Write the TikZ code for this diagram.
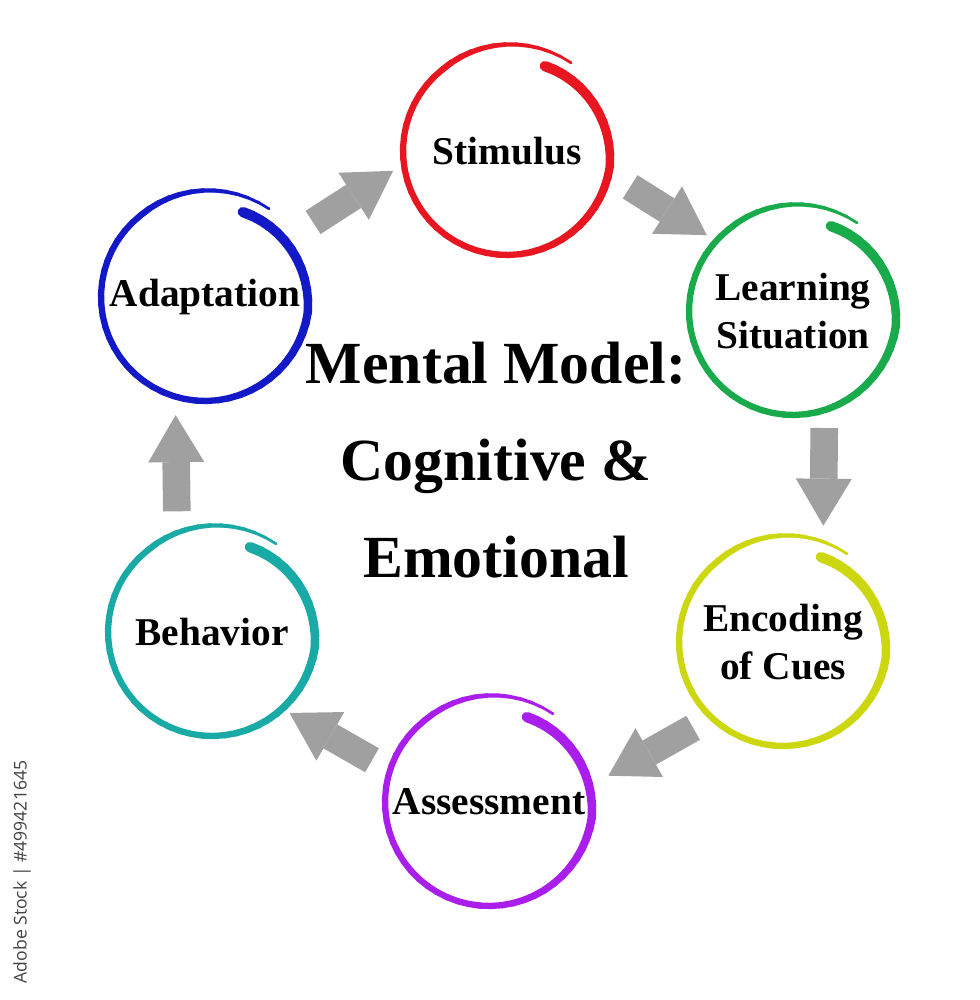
\documentclass[tikz,border=0pt]{standalone}
\usepackage{fontspec}
\setmainfont{Liberation Serif}
\newfontfamily\stockfont{Open Sans}
\usetikzlibrary{arrows.meta, calc}
\definecolor{ringred}{RGB}{232,22,32}
\definecolor{ringgreen}{RGB}{25,170,75}
\definecolor{ringlime}{RGB}{205,215,15}
\definecolor{ringpurple}{RGB}{170,30,235}
\definecolor{ringteal}{RGB}{25,170,165}
\definecolor{ringblue}{RGB}{20,25,200}
\definecolor{arrgray}{RGB}{160,160,160}
\tikzset{
  stage/.style={circle, minimum size=5.35cm, inner sep=0pt, align=center,
    font=\bfseries\fontsize{28}{34}\selectfont},
  title/.style={align=center, inner sep=0pt, font=\bfseries\fontsize{42.5}{69}\selectfont},
  blkarr/.style={-{Triangle[length=1.175cm, width=1.4cm, line width=0pt]},
    line width=0.69cm, draw=arrgray},
  stock/.style={font=\stockfont\fontsize{12.5}{14}\selectfont, text=black!74, inner sep=0pt}
}
% brush-like ring round a stage node: a spiral that starts thick inside
% and ends thin just outside
\newcommand{\handring}[2]{%
  \foreach \k in {0,...,59}{%
    \pgfmathsetmacro{\tA}{\k/60}%
    \pgfmathsetmacro{\tB}{(\k+1)/60}%
    \pgfmathsetmacro{\angA}{66-372*\tA}%
    \pgfmathsetmacro{\angB}{66-372*\tB}%
    \pgfmathsetmacro{\radA}{104-11*max(0,1-\tA/0.2)+5*max(0,(\tA-0.8)/0.2)}%
    \pgfmathsetmacro{\radB}{104-11*max(0,1-\tB/0.2)+5*max(0,(\tB-0.8)/0.2)}%
    \pgfmathsetmacro{\wid}{0.7113*(6.3+4*max(0,1-\tA/0.4)-3.9*max(0,(\tA-0.8)/0.2))}%
    \draw[#2, line width=\wid pt, line cap=round]
      ($(#1.center)+(\angA:\radA)$) -- ($(#1.center)+(\angB:\radB)$);
  }%
}

\begin{document}
\begin{tikzpicture}[x=0.025cm, y=0.025cm]
\fill[white] (0,0) rectangle (980,1000);
\useasboundingbox (0,0) rectangle (980,1000);

\node[stage] (stim) at (507,849) {Stimulus};
\node[stage] (learn) at (793,689) {Learning\\Situation};
\node[stage] (enc) at (783,358) {Encoding\\of Cues};
\node[stage] (assess) at (489,198) {Assessment};
\node[stage] (behav) at (212,368) {Behavior};
\node[stage] (adapt) at (205,703) {Adaptation};

\node[title] (mm) at (496,540) {Mental Model:\\Cognitive \&\\Emotional};

\handring{stim}{ringred}
\handring{learn}{ringgreen}
\handring{enc}{ringlime}
\handring{assess}{ringpurple}
\handring{behav}{ringteal}
\handring{adapt}{ringblue}

\draw[blkarr, shorten <=0.6cm, shorten >=0.225cm] (adapt.35) -- (stim.188);
\draw[blkarr, shorten <=0.55cm, shorten >=0.19cm] (stim.-13) -- (learn.138);
\draw[blkarr, shorten <=0.36cm, shorten >=0.42cm] (learn.-73.7) -- (enc.68);
\draw[blkarr, shorten <=0.44cm, shorten >=0.39cm] (enc.226.6) -- (assess.10.5);
\draw[blkarr, shorten <=0.43cm, shorten >=0.125cm] (assess.162.9) -- (behav.-47.2);
\draw[blkarr, shorten <=0.48cm, shorten >=0.375cm] (behav.109.4) -- (adapt.254.6);

\node[stock, rotate=90] (wm) at (22,128) {Adobe Stock | \#499421645};
\end{tikzpicture}
\end{document}
